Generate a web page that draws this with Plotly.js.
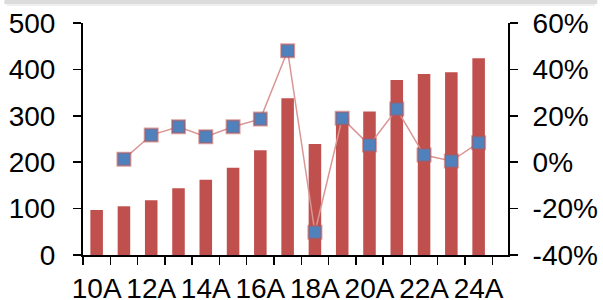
<!DOCTYPE html>
<html>
<head>
<meta charset="utf-8">
<script src="https://cdn.plot.ly/plotly-3.0.1.min.js"></script>
<style>html,body{margin:0;padding:0;background:#fff;}#chart{width:603px;height:300px;}</style>
</head>
<body>
<div id="chart"></div>
<script>
var categories = ['10A','11A','12A','13A','14A','15A','16A','17A','18A','19A','20A','21A','22A','23A','24A'];
var barValues = [97, 105, 118, 144, 162, 188, 226, 338, 239, 298, 309, 377, 390, 394, 424];
var lineCategories = ['11A','12A','13A','14A','15A','16A','17A','18A','19A','20A','21A','22A','23A','24A'];
var growthValues = [0.013, 0.117, 0.153, 0.110, 0.153, 0.186, 0.480, -0.302, 0.189, 0.074, 0.229, 0.031, 0.005, 0.084];
var leftTicks = [0, 100, 200, 300, 400, 500];
var rightTicks = [-0.4, -0.2, 0, 0.2, 0.4, 0.6];
var rightTickText = ['-40%', '-20%', '0%', '20%', '40%', '60%'];
var xTickText = categories.map(function(c, i){ return i % 2 === 0 ? c : ''; });

var font = {family: 'Liberation Sans, Arial, sans-serif', size: 28, color: '#000'};

var traces = [
  {
    type: 'bar', x: categories, y: barValues, yaxis: 'y',
    marker: {color: '#c0504d', line: {width: 0}},
    hoverinfo: 'none'
  },
  {
    type: 'scatter', mode: 'lines+markers', x: lineCategories, y: growthValues, yaxis: 'y2',
    line: {color: 'rgb(218,150,148)', width: 1.5},
    marker: {symbol: 'square', size: 13, color: '#4f81bd', line: {color: 'rgba(192,80,77,0.55)', width: 2}},
    hoverinfo: 'none'
  }
];

var layout = {
  width: 603, height: 300,
  margin: {l: 83, r: 95, t: 23, b: 45, pad: 0},
  paper_bgcolor: '#fff', plot_bgcolor: '#fff',
  showlegend: false,
  bargap: 0.54,
  font: font,
  xaxis: {
    type: 'category', tickmode: 'array', tickvals: categories, ticktext: xTickText,
    tickson: 'boundaries', ticks: 'outside', ticklen: 8, tickwidth: 1.5, tickcolor: '#000',
    showline: true, linecolor: '#000', linewidth: 2, showgrid: false, zeroline: false,
    tickfont: font, tickangle: 0, ticklabelstandoff: 7
  },
  yaxis: {
    range: [0, 500], tickmode: 'array', tickvals: leftTicks,
    ticks: 'outside', ticklen: 8, tickwidth: 1.5, tickcolor: '#000',
    showline: true, linecolor: '#000', linewidth: 2, showgrid: false, zeroline: false,
    tickfont: font, ticklabelstandoff: 12
  },
  yaxis2: {
    overlaying: 'y', side: 'right', range: [-0.4, 0.6], tickmode: 'array',
    tickvals: rightTicks, ticktext: rightTickText,
    ticks: 'outside', ticklen: 8, tickwidth: 1.5, tickcolor: '#000',
    showline: true, linecolor: '#000', linewidth: 2, showgrid: false, zeroline: false,
    tickfont: font, ticklabelstandoff: 9
  },
  shapes: [
    {type: 'rect', xref: 'paper', yref: 'paper', x0: -0.18, x1: 1.205, y0: 1.073, y1: 1.082,
     fillcolor: '#f0f0f0', line: {width: 0}, layer: 'below'},
    {type: 'rect', xref: 'paper', yref: 'paper', x0: -0.185, x1: 1.21, y0: 1.082, y1: 1.12,
     fillcolor: '#dcdcdc', line: {width: 0}, layer: 'below'}
  ]
};

Plotly.newPlot('chart', traces, layout, {staticPlot: true, displayModeBar: false});
</script>
</body>
</html>
